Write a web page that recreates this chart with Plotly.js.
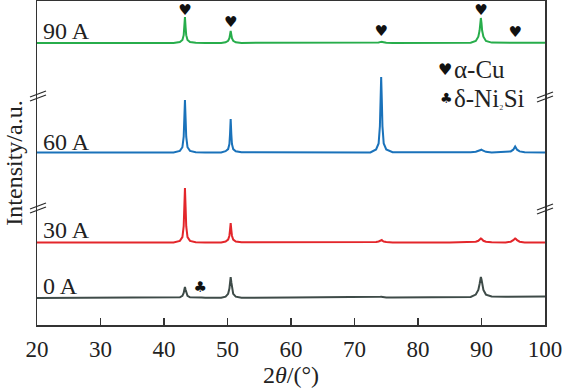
<!DOCTYPE html>
<html>
<head>
<meta charset="utf-8">
<script src="https://cdn.plot.ly/plotly-3.0.1.min.js"></script>
<style>html,body{margin:0;padding:0;background:#fff;}#chart{width:565px;height:388px;}</style>
</head>
<body>
<div id="chart"></div>
<script>
// 2θ grid (degrees), denser around the diffraction peaks
var twoTheta = [20, 30, 38, 41.5,
  42.5, 42.9, 43.1, 43.2, 43.3, 43.4, 43.5, 43.7, 44.1, 45.0,
  45.3, 45.6, 45.9,
  46.5, 49.0,
  49.7, 50.1, 50.3, 50.4, 50.5, 50.6, 50.7, 50.9, 51.3, 52.2,
  60, 72.5,
  73.4, 73.8, 74.0, 74.1, 74.2, 74.3, 74.4, 74.6, 75.0, 76.0,
  85, 88.3,
  89.1, 89.5, 89.7, 89.8, 89.9, 90.0, 90.1, 90.3, 90.7, 91.6,
  93.8, 94.6, 95.0, 95.2, 95.3, 95.4, 95.6, 96.0, 96.8, 100];

// Intensity (a.u., stacked) for each arc current
var int0A = [27.0, 27.0, 27.1, 27.1,
  27.7, 29.2, 32.0, 35.3, 38.0, 35.3, 32.0, 29.2, 27.7, 27.2,
  27.4, 27.6, 27.4,
  27.2, 27.2,
  28.3, 31.2, 36.5, 42.8, 48.0, 42.8, 36.5, 31.2, 28.3, 27.3,
  27.4, 27.5,
  27.6, 27.8, 28.0, 28.2, 28.3, 28.2, 28.0, 27.8, 27.6, 27.5,
  27.8, 28.0,
  30.4, 35.0, 41.0, 45.6, 48.0, 45.6, 41.0, 35.0, 30.4, 28.5,
  28.3, 28.3, 28.4, 28.4, 28.4, 28.4, 28.4, 28.3, 28.3, 28.5];

var int30A = [82.5, 82.5, 82.6, 82.6,
  84.1, 87.9, 98.8, 117.9, 137.0, 117.9, 98.8, 87.9, 84.1, 82.8,
  82.7, 82.7, 82.6,
  82.6, 82.6,
  83.5, 85.4, 89.3, 95.2, 102.0, 95.2, 89.3, 85.4, 83.5, 82.7,
  82.6, 82.7,
  83.0, 83.5, 84.2, 85.0, 85.5, 85.0, 84.2, 83.5, 83.0, 82.6,
  82.6, 82.8,
  83.2, 84.2, 85.3, 86.2, 86.5, 86.2, 85.3, 84.2, 83.2, 82.7,
  82.6, 83.3, 84.8, 86.2, 86.5, 86.2, 84.8, 83.3, 82.6, 82.5];

var int60A = [172.5, 172.5, 172.5, 172.6,
  174.1, 177.8, 188.3, 206.6, 225.0, 206.6, 188.3, 177.8, 174.1, 172.7,
  172.6, 172.6, 172.6,
  172.6, 172.6,
  173.8, 175.9, 180.9, 190.9, 206.0, 190.9, 180.9, 175.9, 173.8, 172.7,
  172.5, 172.6,
  175.5, 181.6, 198.9, 225.4, 248.0, 225.4, 198.9, 181.6, 175.5, 172.8,
  172.5, 172.7,
  173.2, 174.0, 174.8, 175.3, 175.5, 175.3, 174.8, 174.0, 173.2, 172.6,
  172.8, 173.6, 175.3, 177.5, 178.5, 177.5, 175.3, 173.6, 172.8, 172.5];

var int90A = [282.0, 282.0, 282.0, 282.1,
  283.0, 285.1, 289.8, 297.6, 308.0, 297.6, 289.8, 285.1, 283.0, 282.2,
  282.1, 282.1, 282.1,
  282.1, 282.1,
  282.7, 284.2, 286.8, 290.4, 294.0, 290.4, 286.8, 284.2, 282.7, 282.1,
  282.0, 282.1,
  282.2, 282.5, 282.9, 283.3, 283.5, 283.3, 282.9, 282.5, 282.2, 282.1,
  282.1, 282.2,
  284.0, 288.3, 294.5, 302.0, 307.0, 302.0, 294.5, 288.3, 284.0, 282.4,
  282.2, 282.3, 282.4, 282.5, 282.6, 282.5, 282.4, 282.3, 282.2, 282.2];

var seriesNames = ['0 A', '30 A', '60 A', '90 A'];
var seriesColors = ['#3e4b48', '#e3262b', '#1a72ba', '#27ad4b'];

// phase markers
var cuPeakX = [43.3, 50.5, 74.2, 89.9, 95.3];
var cuPeakY = [314, 302, 293, 314, 292];
var ni2siPeakX = [45.7];
var ni2siPeakY = [37];

var xTicks = [20, 30, 40, 50, 60, 70, 80, 90, 100];

var serif = 'Liberation Serif, Times New Roman, serif';
var allY = [int0A, int30A, int60A, int90A];
var traces = [];
for (var i = 0; i < 4; i++) {
  traces.push({x: twoTheta, y: allY[i], type: 'scatter', mode: 'lines', name: seriesNames[i],
    line: {color: seriesColors[i], width: 2}, hoverinfo: 'skip'});
}
traces.push({x: cuPeakX, y: cuPeakY, type: 'scatter', mode: 'text', cliponaxis: false,
  text: cuPeakX.map(function(){return '\u2665';}),
  textfont: {family: 'DejaVu Sans', size: 15, color: '#111'}, hoverinfo: 'skip'});
traces.push({x: ni2siPeakX, y: ni2siPeakY, type: 'scatter', mode: 'text', cliponaxis: false,
  text: ['\u2663'], textfont: {family: 'DejaVu Sans', size: 15, color: '#111'}, hoverinfo: 'skip'});

// pixel helpers for decorations
var L = 37, R = 545, T = 1, B = 325;
function px(x) { return (x - L) / (R - L); }
function py(y) { return (B - y) / (B - T); }
function brk(xc, yc) {
  var s = [];
  [0, 4].forEach(function(d){
    s.push({type: 'line', xref: 'paper', yref: 'paper',
      x0: px(xc - 8), y0: py(yc + 1 + d), x1: px(xc + 8), y1: py(yc - 5 + d),
      line: {color: '#2a2a2a', width: 1.3}});
  });
  return s;
}
var shapes = [].concat(brk(38, 96), brk(38, 208), brk(545, 97), brk(545, 209));

var labelY = [39, 95, 183, 294];
var annotations = [];
for (var j = 0; j < 4; j++) {
  annotations.push({xref: 'paper', yref: 'y', x: px(41), y: labelY[j], xanchor: 'left', yanchor: 'middle',
    text: seriesNames[j], showarrow: false, font: {family: serif, size: 24, color: '#222'}});
}
annotations.push({xref: 'paper', yref: 'paper', x: px(445), y: py(70), xanchor: 'center', yanchor: 'middle',
  text: '\u2665', showarrow: false, font: {family: 'DejaVu Sans', size: 16, color: '#111'}});
annotations.push({xref: 'paper', yref: 'paper', x: px(446), y: py(98), xanchor: 'center', yanchor: 'middle',
  text: '\u2663', showarrow: false, font: {family: 'DejaVu Sans', size: 14, color: '#111'}});
annotations.push({xref: 'paper', yref: 'paper', x: px(452), y: py(70), xanchor: 'left', yanchor: 'middle',
  text: '\u03b1-Cu', showarrow: false, font: {family: serif, size: 25, color: '#222'}});
annotations.push({xref: 'paper', yref: 'paper', x: px(452), y: py(98), xanchor: 'left', yanchor: 'middle',
  text: '\u03b4-Ni<span style="font-size:13px">\u2082</span>Si', showarrow: false, font: {family: serif, size: 25, color: '#222'}});

var layout = {
  width: 565, height: 388,
  margin: {l: L, r: 565 - R, t: T, b: 388 - B},
  paper_bgcolor: '#fff', plot_bgcolor: '#fff',
  showlegend: false,
  font: {family: serif, color: '#222'},
  xaxis: {range: [20, 100], tickvals: xTicks, ticktext: xTicks.map(String),
    ticks: 'inside', ticklen: 7, tickwidth: 1.3, tickcolor: '#333',
    showline: true, linecolor: '#333', linewidth: 1.5, mirror: true,
    showgrid: false, zeroline: false, ticklabelstandoff: 3,
    tickfont: {family: serif, size: 23, color: '#222'},
    title: {text: '2<i>\u03b8</i>/(\u00b0)', font: {family: serif, size: 24, color: '#222'}, standoff: 1}},
  yaxis: {range: [0, 324], showticklabels: false, ticks: '',
    showline: true, linecolor: '#333', linewidth: 1.5, mirror: true,
    showgrid: false, zeroline: false,
    title: {text: 'Intensity/a.u.', font: {family: serif, size: 24, color: '#222'}, standoff: 6}},
  shapes: shapes,
  annotations: annotations
};

Plotly.newPlot('chart', traces, layout, {staticPlot: true, displayModeBar: false});
</script>
</body>
</html>
